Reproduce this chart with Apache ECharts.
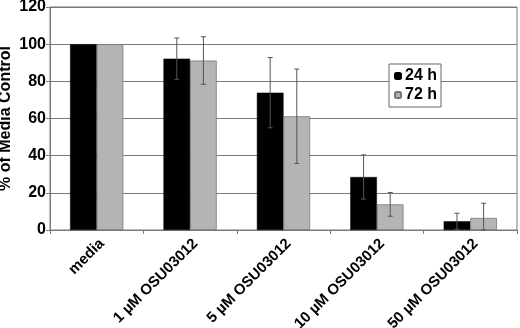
<!DOCTYPE html>
<html>
<head>
<meta charset="utf-8">
<script src="https://cdn.jsdelivr.net/npm/echarts@6/dist/echarts.min.js"></script>
<style>
  html, body { margin: 0; padding: 0; background: #fff; }
  #chart { width: 520px; height: 328px; }
</style>
</head>
<body>
<div id="chart"></div>
<script>
// values
const categories = ['media', '1 µM OSU03012', '5 µM OSU03012', '10 µM OSU03012', '50 µM OSU03012'];
const values24 = [100, 92.2, 73.9, 28.5, 4.7];
const values72 = [100, 91.2, 61.2, 13.8, 6.5];
const err24 = [0, 11.1, 18.9, 11.9, 4.3];
const err72 = [0, 12.8, 25.4, 6.4, 7.9];
const yTicks = [0, 20, 40, 60, 80, 100, 120];

const FONT = 'Liberation Sans';
const GREY = '#7a7a7a';

// bars take 28.5% of the band each, so centres sit at +/- 14.25%
function errorBars(values, errs, side) {
    return {
        type: 'custom',
        z: 10,
        silent: true,
        renderItem: function (params, api) {
            const i = api.value(0);
            const v = api.value(1);
            const e = api.value(2);
            if (!e) return null;
            const band = api.size([1, 0])[0];
            const off = side * band * 0.1425;
            const hi = api.coord([i, v + e]);
            const lo = api.coord([i, Math.max(0, v - e)]);
            const x = hi[0] + off;
            const style = { stroke: '#555', lineWidth: 1 };
            return {
                type: 'group',
                children: [
                    { type: 'line', shape: { x1: x, y1: hi[1], x2: x, y2: lo[1] }, style: style },
                    { type: 'line', shape: { x1: x - 2.5, y1: hi[1], x2: x + 2.5, y2: hi[1] }, style: style },
                    { type: 'line', shape: { x1: x - 2.5, y1: lo[1], x2: x + 2.5, y2: lo[1] }, style: style }
                ]
            };
        },
        data: values.map((v, i) => [i, v, errs[i]]),
        encode: { x: 0, y: 1 }
    };
}

var dom = document.getElementById('chart');
var myChart = echarts.init(dom, null, { renderer: 'canvas' });

const option = {
    animation: false,
    textStyle: { fontFamily: FONT, fontWeight: 'bold', color: '#000' },
    grid: {
        left: 50,
        right: 3,
        top: 7,
        bottom: 98,
        containLabel: false,
        outerBoundsMode: 'none',
        show: true,
        borderColor: GREY,
        borderWidth: 1
    },
    legend: {
        data: ['24 h', '72 h'],
        orient: 'vertical',
        left: 389,
        top: 64,
        padding: [4, 4, 4, 5],
        itemGap: 3,
        itemWidth: 6,
        itemHeight: 6,
        backgroundColor: '#fff',
        borderColor: '#666',
        borderWidth: 1,
        textStyle: { fontFamily: FONT, fontWeight: 'bold', fontSize: 16, color: '#000', padding: [0, 0, 0, -1] }
    },
    xAxis: {
        type: 'category',
        data: categories,
        axisLine: { lineStyle: { color: GREY } },
        axisTick: { show: true, length: 4, lineStyle: { color: GREY } },
        axisLabel: {
            interval: 0,
            rotate: 45,
            margin: 6,
            verticalAlign: 'top',
            fontFamily: FONT,
            fontWeight: 'bold',
            fontSize: 15,
            color: '#000'
        }
    },
    yAxis: {
        type: 'value',
        min: yTicks[0],
        max: yTicks[yTicks.length - 1],
        interval: yTicks[1] - yTicks[0],
        name: '% of Media Control',
        nameLocation: 'middle',
        nameGap: 36,
        nameMoveOverlap: false,
        nameTextStyle: { fontFamily: FONT, fontWeight: 'bold', fontSize: 16, color: '#000' },
        axisLine: { show: true, lineStyle: { color: GREY } },
        axisTick: { show: true, length: 4, lineStyle: { color: GREY } },
        splitLine: { show: true, lineStyle: { color: GREY, width: 1 } },
        axisLabel: {
            margin: 4,
            fontFamily: FONT,
            fontWeight: 'bold',
            fontSize: 16,
            color: '#000'
        }
    },
    series: [
        {
            name: '24 h',
            type: 'bar',
            barGap: '0%',
            barCategoryGap: '43%',
            itemStyle: { color: '#000', borderColor: '#000', borderWidth: 0.5 },
            data: values24
        },
        {
            name: '72 h',
            type: 'bar',
            barGap: '0%',
            barCategoryGap: '43%',
            itemStyle: { color: '#b4b4b4', borderColor: '#777', borderWidth: 0.8 },
            data: values72
        },
        errorBars(values24, err24, -1),
        errorBars(values72, err72, 1)
    ]
};

myChart.setOption(option);
window.addEventListener('resize', myChart.resize);
</script>
</body>
</html>
